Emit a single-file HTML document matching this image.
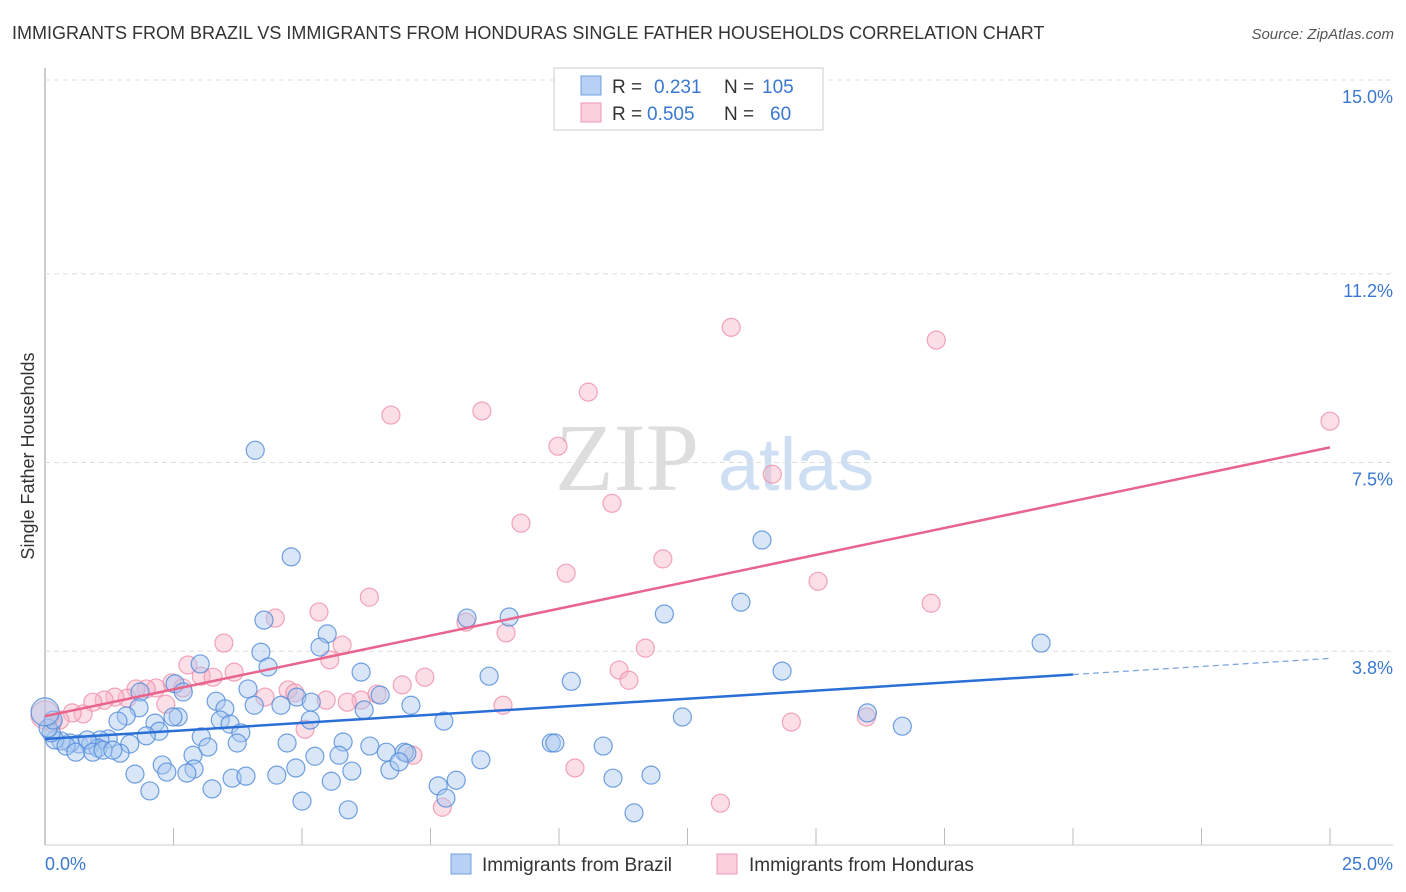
<!DOCTYPE html>
<html><head><meta charset="utf-8"><style>
body{margin:0;background:#fff;font-family:"Liberation Sans",sans-serif}
svg{display:block}
</style></head><body>
<svg id="c" width="1406" height="892">
<text x="12" y="39" font-size="18" fill="#333">IMMIGRANTS FROM BRAZIL VS IMMIGRANTS FROM HONDURAS SINGLE FATHER HOUSEHOLDS CORRELATION CHART</text>
<text x="1394" y="39" font-size="15" fill="#555" font-style="italic" text-anchor="end">Source: ZipAtlas.com</text>
<text transform="translate(34,456) rotate(-90)" font-size="18" fill="#333" text-anchor="middle">Single Father Households</text>
<g><text x="555" y="490" font-size="96" fill="#ddd" font-family="Liberation Serif">ZIP</text><text x="718" y="490" font-size="74" fill="#cfdff3">atlas</text></g>
<g id="grid"></g><g id="pts"></g><g id="lines"></g>
<g>
<rect x="554" y="68" width="269" height="62" fill="#fff" stroke="#ccc"/>
<rect x="581" y="76" width="20" height="19" fill="#b7d0f3" stroke="#6f9fe0"/>
<rect x="581" y="103" width="20" height="19" fill="#fbd0dc" stroke="#ef9ab2"/>
<text x="612" y="93" font-size="19" fill="#333">R = <tspan fill="#3a78d0" x="654">0.231</tspan><tspan x="724" fill="#333">N =</tspan><tspan x="762" fill="#3a78d0">105</tspan></text>
<text x="612" y="120" font-size="19" fill="#333">R = <tspan fill="#3a78d0" x="647">0.505</tspan><tspan x="724" fill="#333">N =</tspan><tspan x="770" fill="#3a78d0">60</tspan></text>
</g>
<g>
<rect x="451" y="854" width="20" height="20" fill="#b7d0f3" stroke="#6f9fe0"/>
<text x="482" y="871" font-size="19" fill="#333">Immigrants from Brazil</text>
<rect x="717" y="854" width="20" height="20" fill="#fbd0dc" stroke="#ef9ab2"/>
<text x="749" y="871" font-size="19" fill="#333">Immigrants from Honduras</text>
</g>
</svg>
<script>
const yTicks=[3.8,7.5,11.2,15.0];
const yTickLabels=["3.8%","7.5%","11.2%","15.0%"];
const xTicks=[0,2.5,5,7.5,10,12.5,15,17.5,20,22.5,25];
const xEndLabels=["0.0%","25.0%"];
const brazilX=[4.09,4.79,13.95,8.21,9.03,12.05,13.54,19.38,4.26,5.49,5.35,4.20,3.02,6.15,8.64,10.24,14.34,2.53,2.69,1.85,3.95,4.34,3.33,4.90,5.18,4.59,4.07,6.52,7.12,3.50,1.83,1.58,2.59,2.49,3.41,5.16,6.21,7.76,12.40,16.00,16.68,1.42,2.14,3.60,2.22,3.81,3.04,1.97,1.23,1.07,1.65,3.74,4.71,5.80,6.32,3.17,9.85,9.92,10.86,6.64,6.99,7.04,5.72,5.25,1.46,2.88,0.66,0.88,1.03,0.82,0.49,0.31,0.19,0.41,0.60,0.93,1.13,1.32,0.12,0.06,0.16,0.0,2.28,2.90,2.76,2.37,1.75,3.64,3.91,4.51,4.88,5.97,6.71,6.89,8.48,2.04,3.25,5.57,7.65,8.00,11.05,11.79,5.00,7.80,5.90,11.46];
const brazilY=[7.74,5.65,5.98,4.45,4.47,4.53,4.76,3.96,4.41,4.14,3.88,3.78,3.55,3.39,3.31,3.21,3.41,3.16,3.00,3.00,3.06,3.49,2.82,2.90,2.80,2.74,2.74,2.94,2.74,2.67,2.69,2.53,2.51,2.51,2.45,2.45,2.65,2.43,2.51,2.59,2.33,2.43,2.39,2.37,2.23,2.20,2.12,2.14,2.08,2.06,1.98,2.00,2.00,2.02,1.94,1.92,2.00,2.00,1.94,1.82,1.82,1.80,1.76,1.74,1.80,1.76,1.98,1.96,1.90,2.06,2.00,2.04,2.06,1.94,1.82,1.82,1.86,1.86,2.20,2.29,2.45,2.61,1.57,1.49,1.41,1.43,1.39,1.31,1.35,1.37,1.51,1.45,1.47,1.63,1.67,1.06,1.10,1.25,1.16,1.27,1.31,1.37,0.86,0.92,0.69,0.63];
const hondX=[13.35,17.34,10.57,6.73,8.50,25.0,9.98,14.15,11.03,9.26,12.02,10.14,15.04,6.31,5.33,17.24,4.48,8.19,8.97,5.78,3.48,11.68,2.78,3.68,3.04,3.27,2.47,5.54,11.17,11.36,7.39,6.95,2.68,2.16,1.97,1.77,1.60,1.36,1.15,0.93,4.73,4.86,6.15,5.88,6.46,5.47,4.28,8.91,2.35,0.74,0.53,0.29,0.14,5.06,14.52,15.98,7.16,10.31,7.73,13.14,0.0];
const hondY=[10.15,9.90,8.88,8.43,8.51,8.31,7.82,7.27,6.70,6.31,5.61,5.33,5.17,4.86,4.57,4.74,4.45,4.37,4.16,3.92,3.96,3.86,3.53,3.39,3.31,3.29,3.18,3.63,3.43,3.23,3.29,3.14,3.08,3.08,3.06,3.06,2.88,2.90,2.84,2.80,3.04,2.98,2.84,2.80,2.96,2.84,2.90,2.74,2.76,2.57,2.59,2.45,2.39,2.27,2.41,2.51,1.76,1.51,0.74,0.82,2.55];
const X0=45,X1=1330,Y0=845,YTOP=80;
const xs=v=>X0+v*(X1-X0)/25;
const ys=v=>Y0-v*(Y0-YTOP)/15;
const NS="http://www.w3.org/2000/svg";
function mk(tag,attrs,parent){const e=document.createElementNS(NS,tag);for(const k in attrs)e.setAttribute(k,attrs[k]);parent.appendChild(e);return e;}
const grid=document.getElementById('grid');
mk('line',{x1:45,y1:68,x2:45,y2:845,stroke:'#bbb','stroke-width':1.5},grid);
mk('line',{x1:45,y1:845,x2:1393,y2:845,stroke:'#ccc','stroke-width':1},grid);
yTicks.forEach((t,i)=>{
 const g=mk('line',{x1:45,y1:ys(t),x2:1393,y2:ys(t),stroke:'#ddd','stroke-dasharray':'5,4'},grid);
 
 
 const tx=mk('text',{x:1393,y:ys(t)+23,'font-size':18,fill:'#3a78d0','text-anchor':'end'},grid);
 
 
 tx.textContent=yTickLabels[i];
});
xTicks.forEach(t=>{
 const l=mk('line',{x1:xs(t),y1:828,x2:xs(t),y2:845,stroke:'#bbb'},grid);
 
 
});
const xl0=mk('text',{x:45,y:870,'font-size':18,fill:'#3a78d0'},grid);


xl0.textContent=xEndLabels[0];
const xl1=mk('text',{x:1393,y:870,'font-size':18,fill:'#3a78d0','text-anchor':'end'},grid);


xl1.textContent=xEndLabels[1];
const pts=document.getElementById('pts');
function drawSeries(X,Y,fill,stroke,name){
 X.forEach((v,i)=>{
  const big=v===0;
  const c=mk('circle',{cx:xs(v),cy:ys(Y[i]),r:big?14:9,fill:fill,'fill-opacity':0.45,stroke:stroke,'stroke-opacity':0.8,'stroke-width':1.2},pts);
  
  
 });
}
drawSeries(hondX,hondY,'#f7b6c8','#ee8eaa','point-honduras');
drawSeries(brazilX,brazilY,'#a9c8f0','#4f89d8','point-brazil');
function fit(X,Y){const n=X.length;let mx=0,my=0;for(let i=0;i<n;i++){mx+=X[i];my+=Y[i];}mx/=n;my/=n;let sxy=0,sxx=0;for(let i=0;i<n;i++){sxy+=(X[i]-mx)*(Y[i]-my);sxx+=(X[i]-mx)**2;}const b=sxy/sxx;return [my-b*mx,b];}
const lines=document.getElementById('lines');
const [ab,bb]=fit(brazilX,brazilY);
const l1=mk('line',{x1:xs(0),y1:ys(ab),x2:xs(20),y2:ys(ab+bb*20),stroke:'#2a6fd6','stroke-width':2.5},lines);


const l2=mk('line',{x1:xs(20),y1:ys(ab+bb*20),x2:xs(25),y2:ys(ab+bb*25),stroke:'#7aa3e0','stroke-width':1.3,'stroke-dasharray':'6,4'},lines);


const [ah,bh]=fit(hondX,hondY);
const l3=mk('line',{x1:xs(0),y1:ys(ah),x2:xs(25),y2:ys(ah+bh*25),stroke:'#e8648c','stroke-width':2.5},lines);


</script>
</body></html>
